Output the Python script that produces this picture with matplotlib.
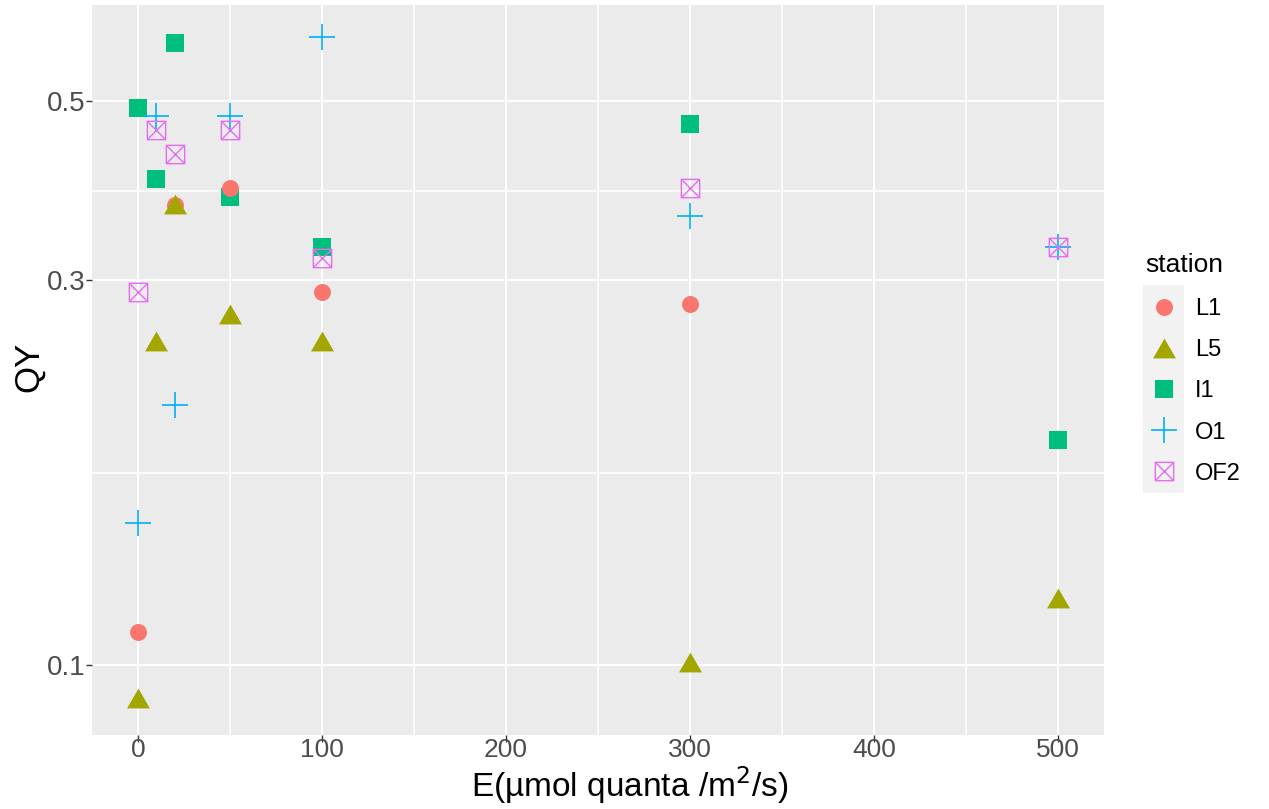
import matplotlib
matplotlib.use("Agg")
import matplotlib.pyplot as plt
from matplotlib.path import Path
from matplotlib.lines import Line2D
from matplotlib.patches import Rectangle
import matplotlib.ticker as mticker
import numpy as np

# ---- data -------------------------------------------------------------
stations = ["L1", "L5", "I1", "O1", "OF2"]

E_L1 = [0, 20, 50, 100, 300]
QY_L1 = [0.110, 0.372, 0.390, 0.290, 0.280]

E_L5 = [0, 10, 20, 50, 100, 300, 500]
QY_L5 = [0.091, 0.252, 0.373, 0.272, 0.252, 0.101, 0.121]

E_I1 = [0, 10, 20, 50, 100, 300, 500]
QY_I1 = [0.490, 0.400, 0.590, 0.380, 0.330, 0.469, 0.190]

E_O1 = [0, 10, 20, 50, 100, 300, 500]
QY_O1 = [0.150, 0.479, 0.210, 0.480, 0.600, 0.360, 0.330]

E_OF2 = [0, 10, 20, 50, 100, 300, 500]
QY_OF2 = [0.290, 0.460, 0.430, 0.460, 0.320, 0.390, 0.330]

x_breaks = [0, 100, 200, 300, 400, 500]
x_minor = [50, 150, 250, 350, 450]
y_breaks = [0.1, 0.3, 0.5]

series = {
    "L1": (E_L1, QY_L1),
    "L5": (E_L5, QY_L5),
    "I1": (E_I1, QY_I1),
    "O1": (E_O1, QY_O1),
    "OF2": (E_OF2, QY_OF2),
}

# ---- styling ----------------------------------------------------------
W, H = 1269, 809
DPI = 100
FONT = ["Liberation Sans", "DejaVu Sans"]

tri_path = Path([(-1, -0.866), (1, -0.866), (0, 0.866), (-1, -0.866)],
                [Path.MOVETO, Path.LINETO, Path.LINETO, Path.CLOSEPOLY])
boxx_path = Path(
    [(-1, -1), (1, -1), (1, 1), (-1, 1), (-1, -1),
     (-1, -1), (1, 1), (-1, 1), (1, -1)],
    [Path.MOVETO, Path.LINETO, Path.LINETO, Path.LINETO, Path.CLOSEPOLY,
     Path.MOVETO, Path.LINETO, Path.MOVETO, Path.LINETO])

styles = {
    "L1": dict(marker="o", color="#F8766D", markersize=12.2, markeredgewidth=0),
    "L5": dict(marker=tri_path, color="#A3A500", markersize=16.5, markeredgewidth=0),
    "I1": dict(marker="s", color="#00BF7D", markersize=12.8, markeredgewidth=0),
    "O1": dict(marker="+", color="#00B0F6", markersize=18.5, markeredgewidth=1.2),
    "OF2": dict(marker=boxx_path, color="#E76BF3", markersize=13.2,
                markeredgewidth=1.0, markerfacecolor="none"),
}
zorders = {"I1": 3.0, "L1": 3.1, "L5": 3.2, "O1": 3.3, "OF2": 3.4}


def px_rect(x0, y0, x1, y1):
    """Figure-fraction rect from pixel box (origin top-left)."""
    return [x0 / W, 1 - y1 / H, (x1 - x0) / W, (y1 - y0) / H]


fig = plt.figure(figsize=(W / DPI, H / DPI), dpi=DPI, facecolor="white")
ax = fig.add_axes(px_rect(92, 5, 1104, 735))
ax.set_facecolor("#EBEBEB")
for s in ax.spines.values():
    s.set_visible(False)

for name in stations:
    xs, ys = series[name]
    ax.plot(xs, ys, linestyle="none", zorder=zorders[name], **styles[name])

# scales
ax.set_yscale("log")
ax.set_xlim(-25, 525)
ax.set_ylim(0.0819, 0.658)

ax.xaxis.set_major_locator(mticker.FixedLocator(x_breaks))
ax.xaxis.set_minor_locator(mticker.FixedLocator(x_minor))
ax.yaxis.set_major_locator(mticker.FixedLocator(y_breaks))
y_minor = [np.sqrt(y_breaks[i] * y_breaks[i + 1]) for i in range(len(y_breaks) - 1)]
ax.yaxis.set_minor_locator(mticker.FixedLocator(y_minor))
ax.xaxis.set_major_formatter(mticker.FixedFormatter([str(v) for v in x_breaks]))
ax.yaxis.set_major_formatter(mticker.FixedFormatter([str(v) for v in y_breaks]))
ax.yaxis.set_minor_formatter(mticker.NullFormatter())

ax.grid(which="major", color="white", linewidth=1.4, zorder=1)
ax.grid(which="minor", color="white", linewidth=1.1, zorder=1)
ax.set_axisbelow(True)

ax.tick_params(which="minor", length=0)
ax.tick_params(axis="y", which="major", length=4.3, width=1.0, color="#333333",
               pad=0.7, labelsize=20, labelcolor="#4D4D4D")
ax.tick_params(axis="x", which="major", length=5.0, width=1.0, color="#333333",
               pad=-2.5, labelsize=19, labelcolor="#4D4D4D")
for lab in ax.get_xticklabels() + ax.get_yticklabels():
    lab.set_family(FONT)

# axis titles
fig.text(630 / W, 1 - 797 / H, "E(µmol quanta /m$^2$/s)", ha="center",
         va="baseline", fontsize=24, color="black", family=FONT)
fig.text(38.5 / W, 1 - 367 / H, "QY", rotation=90, rotation_mode="anchor",
         ha="center", va="baseline", fontsize=25, color="black", family=FONT)

# ---- legend -----------------------------------------------------------
lax = fig.add_axes(px_rect(1135, 240, 1269, 500))
lax.set_xlim(1135, 1269)
lax.set_ylim(500, 240)
lax.axis("off")
lax.text(1145, 272, "station", ha="left", va="baseline", fontsize=19,
         family=FONT, color="black")
lax.add_patch(Rectangle((1143, 285), 41, 208, facecolor="#F2F2F2",
                        edgecolor="none", zorder=0))
key_y0, key_step = 306.5, 41.2
for i, name in enumerate(stations):
    ky = key_y0 + i * key_step
    lax.add_line(Line2D([1163.5], [ky], linestyle="none", zorder=2, **styles[name]))
    lax.text(1195, ky + 8.5, name, ha="left", va="baseline", fontsize=17,
             family=FONT, color="black")

fig.savefig("out.png", dpi=DPI, facecolor="white")
